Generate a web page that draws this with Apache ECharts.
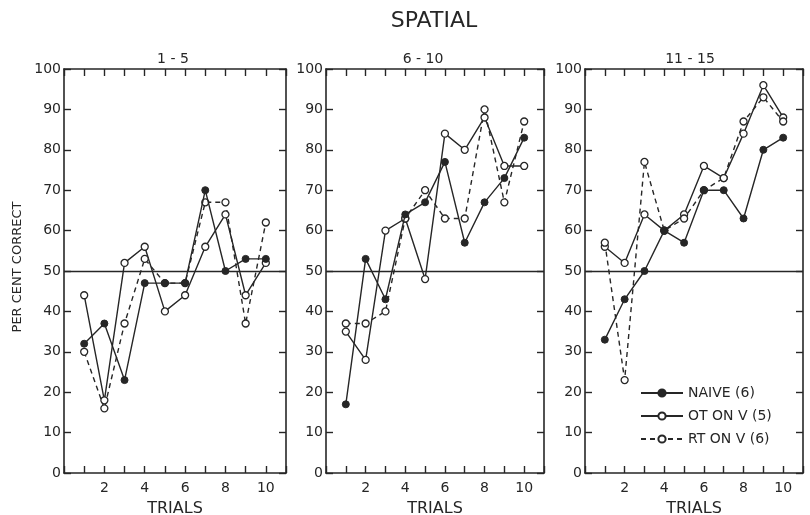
<!DOCTYPE html>
<html>
<head>
<meta charset="utf-8">
<script src="https://cdn.jsdelivr.net/npm/echarts@6/dist/echarts.min.js"></script>
<style>
  html, body { margin: 0; padding: 0; background: #fff; }
  #chart { width: 810px; height: 515px; }
</style>
</head>
<body>
<div id="chart"></div>
<script>
// trial numbers within each block
const trials = [1, 2, 3, 4, 5, 6, 7, 8, 9, 10]
const blocks = ['1 - 5', '6 - 10', '11 - 15']
const seriesNames = ['NAIVE (6)', 'OT ON V (5)', 'RT ON V (6)']
const xTickLabels = [2, 4, 6, 8, 10]

// per cent correct, block 1-5
const naive1 = [32, 37, 23, 47, 47, 47, 70, 50, 53, 53]
const ot1 = [44, 18, 52, 56, 40, 44, 56, 64, 44, 52]
const rt1 = [30, 16, 37, 53, 47, 47, 67, 67, 37, 62]

// block 6-10
const naive2 = [17, 53, 43, 64, 67, 77, 57, 67, 73, 83]
const ot2 = [35, 28, 60, 63, 48, 84, 80, 88, 76, 76]
const rt2 = [37, 37, 40, 63, 70, 63, 63, 90, 67, 87]

// block 11-15
const naive3 = [33, 43, 50, 60, 57, 70, 70, 63, 80, 83]
const ot3 = [56, 52, 64, 60, 64, 76, 73, 84, 96, 88]
const rt3 = [57, 23, 77, 60, 63, 70, 73, 87, 93, 87]

const chanceLevel = 50

const ink = '#262626'
const font = 'DejaVu Sans'

const grids = [
  { left: 64, top: 69, width: 222, height: 404, outerBoundsMode: 'none' },
  { left: 326, top: 69, width: 218, height: 404, outerBoundsMode: 'none' },
  { left: 585, top: 69, width: 218, height: 404, outerBoundsMode: 'none' }
]
const titleX = [173, 423, 690]

const panelData = [
  [naive1, ot1, rt1],
  [naive2, ot2, rt2],
  [naive3, ot3, rt3]
]

const pairs = vals => trials.map((t, i) => [t, vals[i]])

const frameLine = { onZero: false, lineStyle: { color: ink, width: 1.6 } }
const frameTick = { show: true, inside: true, length: 7, lineStyle: { color: ink, width: 1.4 } }

const xAxes = []
const yAxes = []
const series = []

grids.forEach((g, gi) => {
  // bottom + top x axes
  xAxes.push({
    gridIndex: gi,
    type: 'value',
    min: 0,
    max: 11,
    interval: 1,
    position: 'bottom',
    name: 'TRIALS',
    nameLocation: 'middle',
    nameGap: 28,
    nameTextStyle: { fontFamily: font, fontSize: 16, color: ink },
    axisLine: frameLine,
    axisTick: frameTick,
    axisLabel: {
      fontFamily: font,
      fontSize: 14,
      color: ink,
      margin: 8,
      formatter: v => (xTickLabels.includes(v) ? String(v) : '')
    },
    splitLine: { show: false }
  })
  xAxes.push({
    gridIndex: gi,
    type: 'value',
    min: 0,
    max: 11,
    interval: 1,
    position: 'top',
    axisLine: frameLine,
    axisTick: frameTick,
    axisLabel: { show: false },
    splitLine: { show: false }
  })
  // left + right y axes
  yAxes.push({
    gridIndex: gi,
    type: 'value',
    min: 0,
    max: 100,
    interval: 10,
    position: 'left',
    axisLine: { show: true, ...frameLine },
    axisTick: frameTick,
    axisLabel: { fontFamily: font, fontSize: 14, color: ink, margin: 3 },
    splitLine: { show: false }
  })
  yAxes.push({
    gridIndex: gi,
    type: 'value',
    min: 0,
    max: 100,
    interval: 10,
    position: 'right',
    axisLine: { show: true, ...frameLine },
    axisTick: frameTick,
    axisLabel: { show: false },
    splitLine: { show: false }
  })

  const [naive, ot, rt] = panelData[gi]
  const common = {
    type: 'line',
    xAxisIndex: gi * 2,
    yAxisIndex: gi * 2,
    symbol: 'circle',
    symbolSize: 7,
    animation: false
  }
  series.push({
    ...common,
    name: seriesNames[1],
    data: pairs(ot),
    z: 3,
    lineStyle: { color: ink, width: 1.4 },
    itemStyle: { color: '#fff', borderColor: ink, borderWidth: 1.3 },
    markLine: {
      silent: true,
      symbol: 'none',
      label: { show: false },
      lineStyle: { color: ink, width: 1.4, type: 'solid' },
      data: [{ yAxis: chanceLevel }]
    }
  })
  series.push({
    ...common,
    name: seriesNames[2],
    data: pairs(rt),
    z: 3,
    lineStyle: { color: ink, width: 1.4, type: [5, 4] },
    itemStyle: { color: '#fff', borderColor: ink, borderWidth: 1.3 }
  })
  series.push({
    ...common,
    name: seriesNames[0],
    data: pairs(naive),
    z: 4,
    lineStyle: { color: ink, width: 1.4 },
    itemStyle: { color: ink, borderColor: ink, borderWidth: 1 }
  })
})

const texts = [
  {
    type: 'text',
    x: 434,
    y: 21,
    style: { text: 'SPATIAL', font: `22px "${font}"`, fill: ink, textAlign: 'center', textVerticalAlign: 'middle' }
  },
  {
    type: 'text',
    x: 18,
    y: 267,
    rotation: Math.PI / 2,
    style: { text: 'PER CENT CORRECT', font: `13px "${font}"`, fill: ink, textAlign: 'center', textVerticalAlign: 'middle' }
  },
  ...blocks.map((b, i) => ({
    type: 'text',
    x: titleX[i],
    y: 59,
    style: { text: b, font: `14px "${font}"`, fill: ink, textAlign: 'center', textVerticalAlign: 'middle' }
  }))
]

const chart = echarts.init(document.getElementById('chart'))
chart.setOption({
  animation: false,
  backgroundColor: '#fff',
  grid: grids,
  xAxis: xAxes,
  yAxis: yAxes,
  legend: {
    data: seriesNames,
    orient: 'vertical',
    left: 640,
    top: 386,
    padding: 0,
    itemWidth: 42,
    itemHeight: 9,
    itemGap: 9,
    textStyle: { fontFamily: font, fontSize: 14, color: ink }
  },
  graphic: texts,
  series
})
</script>
</body>
</html>
